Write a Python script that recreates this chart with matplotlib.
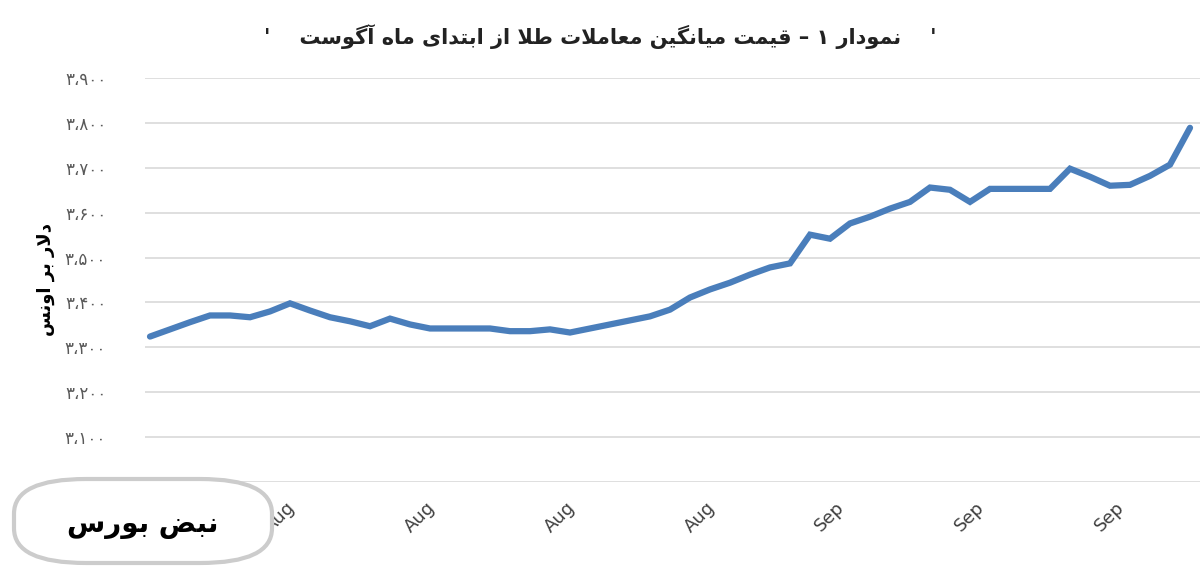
import matplotlib
matplotlib.use("Agg")
import matplotlib.pyplot as plt
from matplotlib.patches import FancyBboxPatch

# ---- data ----
prices = [3324, 3340, 3356, 3371, 3371, 3367, 3380, 3398, 3382, 3367,
          3358, 3347, 3364, 3351, 3342, 3342, 3342, 3342, 3336, 3336,
          3340, 3333, 3342, 3351, 3360, 3369, 3384, 3411, 3429, 3444,
          3462, 3478, 3487, 3551, 3542, 3576, 3591, 3609, 3624, 3656,
          3651, 3624, 3653, 3653, 3653, 3653, 3698, 3680, 3660, 3662,
          3682, 3707, 3789]
xtick_pos = [6.5, 13.5, 20.5, 27.5, 34, 41, 48]
xtick_labels = ["Aug", "Aug", "Aug", "Aug", "Sep", "Sep", "Sep"]
yticks = [3000, 3100, 3200, 3300, 3400, 3500, 3600, 3700, 3800, 3900]
title = "نمودار ۱ – قیمت میانگین معاملات طلا از ابتدای ماه آگوست"
ylabel = "دلار بر اونس"
logo = "نبض بورس"

# ---- minimal Arabic shaping ----
FORMS = {
    'ا': (0xFE8D, 0xFE8E), 'آ': (0xFE81, 0xFE82), 'د': (0xFEA9, 0xFEAA),
    'ر': (0xFEAD, 0xFEAE), 'ز': (0xFEAF, 0xFEB0), 'و': (0xFEED, 0xFEEE),
    'ب': (0xFE8F, 0xFE90, 0xFE91, 0xFE92), 'ت': (0xFE95, 0xFE96, 0xFE97, 0xFE98),
    'س': (0xFEB1, 0xFEB2, 0xFEB3, 0xFEB4), 'ط': (0xFEC1, 0xFEC2, 0xFEC3, 0xFEC4),
    'ع': (0xFEC9, 0xFECA, 0xFECB, 0xFECC), 'ق': (0xFED5, 0xFED6, 0xFED7, 0xFED8),
    'ل': (0xFEDD, 0xFEDE, 0xFEDF, 0xFEE0), 'م': (0xFEE1, 0xFEE2, 0xFEE3, 0xFEE4),
    'ن': (0xFEE5, 0xFEE6, 0xFEE7, 0xFEE8), 'ه': (0xFEE9, 0xFEEA, 0xFEEB, 0xFEEC),
    'ی': (0xFBFC, 0xFBFD, 0xFBFE, 0xFBFF), 'گ': (0xFB92, 0xFB93, 0xFB94, 0xFB95),
    'ض': (0xFEBD, 0xFEBE, 0xFEBF, 0xFEC0),
}
LIG = {'ا': (0xFEFB, 0xFEFC), 'آ': (0xFEF5, 0xFEF6)}

def shape(s):
    out = []
    i = 0
    n = len(s)
    while i < n:
        c = s[i]
        if c not in FORMS:
            out.append(c); i += 1; continue
        prev = s[i-1] if i > 0 else ''
        jp = prev in FORMS and len(FORMS[prev]) == 4
        if c == 'ل' and i + 1 < n and s[i+1] in LIG:
            out.append(chr(LIG[s[i+1]][1 if jp else 0])); i += 2; continue
        f = FORMS[c]
        nxt = s[i+1] if i + 1 < n else ''
        jn = len(f) == 4 and nxt in FORMS
        if len(f) == 2:
            out.append(chr(f[1] if jp else f[0]))
        else:
            if jp and jn: out.append(chr(f[3]))
            elif jp: out.append(chr(f[1]))
            elif jn: out.append(chr(f[2]))
            else: out.append(chr(f[0]))
        i += 1
    return ''.join(out)[::-1]

PD = str.maketrans("0123456789,", "۰۱۲۳۴۵۶۷۸۹،")
def pnum(v):
    return f"{v:,}".translate(PD)

plt.rcParams['font.family'] = ['DejaVu Sans']
fig = plt.figure(figsize=(12, 5.77), dpi=100)
ax = fig.add_axes([145/1200, 1-482/577, 1055/1200, (482-78)/577])
ax.plot(range(len(prices)), prices, color='#4a7ebb', lw=4.5, solid_joinstyle='miter',
        solid_capstyle='round')
ax.set_xlim(-0.25, 52.5)
ax.set_ylim(3000, 3900)
ax.set_yticks(yticks)
ax.set_yticklabels([pnum(v) for v in yticks], color='#595959', fontsize=12)
ax.grid(axis='y', color='#d9d9d9', lw=1.2)
ax.set_axisbelow(True)
for sp in ax.spines.values():
    sp.set_visible(False)
ax.tick_params(length=0, pad=28)
ax.set_xticks(xtick_pos)
ax.set_xticklabels(xtick_labels, rotation=45, color='#404040', fontsize=13, ha='center')
ax.tick_params(axis='x', pad=12)
ax.set_ylabel(shape(ylabel), fontsize=13, fontweight='bold', labelpad=0)
ax.yaxis.set_label_coords(-0.085, 0.5)
fig.text(0.5, 0.937, "'    " + shape(title) + "    '", ha='center', va='center',
         fontsize=15, fontweight='bold', color='#222222')

# logo watermark
box = FancyBboxPatch((14/1200, 1-563/577), 258/1200, 84/577,
                     boxstyle="round,pad=0,rounding_size=0.06", transform=fig.transFigure,
                     fc='white', ec='#cccccc', lw=3, zorder=5)
fig.patches.append(box)
fig.text(143/1200, 1-525/577, shape(logo), ha='center', va='center', fontsize=20,
         fontweight='bold', color='black', zorder=6)

fig.savefig("out.png", dpi=100)
